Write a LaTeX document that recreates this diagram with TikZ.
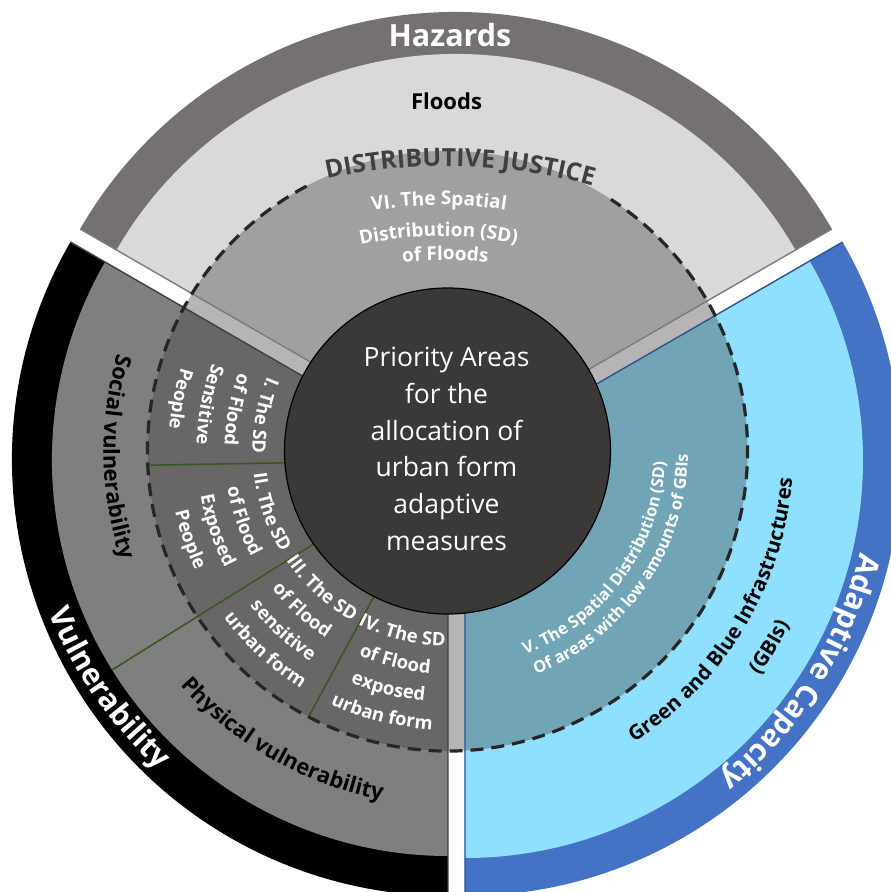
\documentclass[tikz,border=0pt]{standalone}
\usepackage{fontspec}
\setmainfont{Open Sans}
\usetikzlibrary{calc,decorations.text}

\definecolor{hazband}{RGB}{117,113,113}
\definecolor{hazring}{RGB}{217,217,217}
\definecolor{hazinner}{RGB}{161,159,160}
\definecolor{gapgray}{RGB}{182,180,181}
\definecolor{hazline}{RGB}{122,122,122}
\definecolor{vulring}{RGB}{127,127,127}
\definecolor{vulinner}{RGB}{104,102,103}
\definecolor{vulline}{RGB}{64,64,64}
\definecolor{adaband}{RGB}{68,114,196}
\definecolor{adaring}{RGB}{143,224,255}
\definecolor{adainner}{RGB}{113,164,181}
\definecolor{adaline}{RGB}{47,82,143}
\definecolor{core}{RGB}{59,56,56}
\definecolor{divgreen}{RGB}{56,87,35}
\definecolor{dashcol}{RGB}{38,38,38}
\definecolor{justice}{RGB}{64,64,64}

% text set along a clockwise arc (letter tops point away from the arc centre)
\newcommand\cwtext[6]{\path[decorate,decoration={text along path,text align=center,text color=#5,text={#6}}]
  ($(#1)+({#3+#4}:#2)$) arc[start angle={#3+#4},end angle={#3-#4},radius=#2];}
% text set along a counter-clockwise arc (letter tops point towards the arc centre)
\newcommand\ccwtext[6]{\path[decorate,decoration={text along path,text align=center,text color=#5,text={#6}}]
  ($(#1)+({#3-#4}:#2)$) arc[start angle={#3-#4},end angle={#3+#4},radius=#2];}

\tikzset{
  hazedge/.style={draw=hazline,line width=1.4},
  vuledge/.style={draw=vulline,line width=1.4},
  adaedge/.style={draw=adaline,line width=1.4},
  divider/.style={draw=divgreen,line width=1.6},
  ring/.style={draw=dashcol,line width=3.2,dash pattern=on 13pt off 8pt},
  coretext/.style={anchor=base,text=white,font=\fontsize{26.5}{30}\selectfont,inner sep=0pt}
}

\begin{document}
\begin{tikzpicture}[x=1pt,y=1pt]
\useasboundingbox (-447.5,-441) rectangle (443.5,451);
\begin{scope}
\clip (-447.5,-441) rectangle (443.5,451);
\coordinate (C) at (0,0);
\coordinate (H) at (8.5,5);
\coordinate (V) at (0.5,-9);
\coordinate (A) at (17.5,-9);

% outer sectors: label band and second ring
\fill[hazband] (H) -- ++(30:434) arc[start angle=30,end angle=150,radius=434] -- cycle;
\fill[hazring] (H) -- ++(30:392) arc[start angle=30,end angle=150,radius=392] -- cycle;
\fill[black] (V) -- ++(150:436) arc[start angle=150,end angle=270,radius=436] -- cycle;
\fill[vulring] (V) -- ++(150:396) arc[start angle=150,end angle=270,radius=396] -- cycle;
\fill[adaband] (A) -- ++(-90:436) arc[start angle=-90,end angle=30,radius=436] -- cycle;
\fill[adaring] (A) -- ++(-90:398) arc[start angle=-90,end angle=30,radius=398] -- cycle;

% inner disk and inner sectors
\fill[gapgray] (C) circle[radius=300];
\begin{scope}
  \clip (C) circle[radius=300];
  \fill[hazinner] (H) -- ++(30:330) arc[start angle=30,end angle=150,radius=330] -- cycle;
  \fill[vulinner] (V) -- ++(150:330) arc[start angle=150,end angle=270,radius=330] -- cycle;
  \fill[adainner] (A) -- ++(-90:330) arc[start angle=-90,end angle=30,radius=330] -- cycle;
  \draw[divider] (V) -- ++(181:330);
  \draw[divider] (V) -- ++(241.5:330);
\end{scope}
\draw[divider] (V) -- ++(212:396);

% sector edges
\draw[hazedge] ($(H)+(150:434)$) -- (H) -- ($(H)+(30:434)$);
\draw[vuledge] ($(V)+(150:436)$) -- (V) -- ($(V)+(270:436)$);
\draw[adaedge] ($(A)+(30:436)$) -- (A) -- ($(A)+(270:436)$);

% dashed boundary of the inner ring
\draw[ring] ($(C)+(118:300)$) arc[start angle=118,end angle=417,radius=300];

% core
\draw[black,fill=core,line width=1.2] (C) circle[radius=163];
\foreach \t [count=\i] in {Priority Areas,for the,allocation of,urban form,adaptive,measures}
  \node[coretext] (core\i) at (-1,{84.3-36.7*(\i-1)}) {\t};

% outer labels
\node[anchor=base,text=white,inner sep=0pt,font=\bfseries\fontsize{30.5}{32}\selectfont] (hazards) at (2.5,404.5) {Hazards};
\node[anchor=base,text=black,inner sep=0pt,font=\bfseries\fontsize{22}{24}\selectfont] (floods) at (-1,341) {Floods};
\ccwtext{0,0}{430}{215}{22}{white}{|\bfseries\fontsize{30}{30}\selectfont|Vulnerability}
\cwtext{0,0}{425}{-32}{26}{white}{|\bfseries\fontsize{30}{30}\selectfont|Adaptive Capacity}

% second ring labels
\ccwtext{0,0}{344}{181}{25}{black}{|\bfseries\fontsize{22}{22}\selectfont|Social vulnerability}
\ccwtext{0,0}{355}{240.3}{26}{black}{|\bfseries\fontsize{22}{22}\selectfont|Physical vulnerability}
\ccwtext{0,0}{346}{-31}{36}{black}{|\bfseries\fontsize{20.5}{20.5}\selectfont|Green and Blue Infrastructures}
\ccwtext{0,0}{384}{-31.3}{15}{black}{|\bfseries\fontsize{20.5}{20.5}\selectfont|(GBIs)}

% distributive justice and hazard component
\cwtext{-2.5,-265}{550}{88.4}{22}{justice}{|\bfseries\fontsize{25}{25}\selectfont|DISTRIBUTIVE JUSTICE}
\cwtext{-6,-160}{406}{90.35}{25}{white}{|\bfseries\fontsize{19}{19}\selectfont|VI. The Spatial}
\cwtext{-6,-160}{375}{90.46}{28}{white}{|\bfseries\fontsize{19}{19}\selectfont|Distribution (SD)}
\cwtext{-6,-160}{351}{89.4}{25}{white}{|\bfseries\fontsize{19}{19}\selectfont|of Floods}

% vulnerability components
\ccwtext{0,0}{195}{169}{25}{white}{|\bfseries\fontsize{18.5}{18.5}\selectfont|I. The SD}
\ccwtext{0,0}{223}{169}{25}{white}{|\bfseries\fontsize{18.5}{18.5}\selectfont|of Flood}
\ccwtext{0,0}{251}{169}{25}{white}{|\bfseries\fontsize{18.5}{18.5}\selectfont|Sensitive}
\ccwtext{0,0}{279}{169}{25}{white}{|\bfseries\fontsize{18.5}{18.5}\selectfont|People}

\ccwtext{0,0}{195}{199}{25}{white}{|\bfseries\fontsize{18.5}{18.5}\selectfont|II. The SD}
\ccwtext{0,0}{223}{199}{25}{white}{|\bfseries\fontsize{18.5}{18.5}\selectfont|of Flood}
\ccwtext{0,0}{251}{199}{25}{white}{|\bfseries\fontsize{18.5}{18.5}\selectfont|Exposed}
\ccwtext{0,0}{279}{199}{25}{white}{|\bfseries\fontsize{18.5}{18.5}\selectfont|People}

\ccwtext{0,0}{195}{227.5}{25}{white}{|\bfseries\fontsize{18.5}{18.5}\selectfont|III. The SD}
\ccwtext{0,0}{223}{227.5}{25}{white}{|\bfseries\fontsize{18.5}{18.5}\selectfont|of Flood}
\ccwtext{0,0}{251}{227.5}{25}{white}{|\bfseries\fontsize{18.5}{18.5}\selectfont|sensitive}
\ccwtext{0,0}{279}{227.5}{25}{white}{|\bfseries\fontsize{18.5}{18.5}\selectfont|urban form}

\ccwtext{0,0}{195}{256}{25}{white}{|\bfseries\fontsize{18.5}{18.5}\selectfont|IV. The SD}
\ccwtext{0,0}{223}{256}{25}{white}{|\bfseries\fontsize{18.5}{18.5}\selectfont|of Flood}
\ccwtext{0,0}{251}{256}{25}{white}{|\bfseries\fontsize{18.5}{18.5}\selectfont|exposed}
\ccwtext{0,0}{279}{256}{25}{white}{|\bfseries\fontsize{18.5}{18.5}\selectfont|urban form}

% adaptive capacity component
\ccwtext{0,0}{218}{-36}{42}{white}{|\bfseries\fontsize{16.5}{16.5}\selectfont|V. The Spatial Distribution (SD)}
\ccwtext{0,0}{240.5}{-34.6}{42}{white}{|\bfseries\fontsize{16.5}{16.5}\selectfont|Of areas with low amounts of GBIs}
\end{scope}
\end{tikzpicture}
\end{document}
